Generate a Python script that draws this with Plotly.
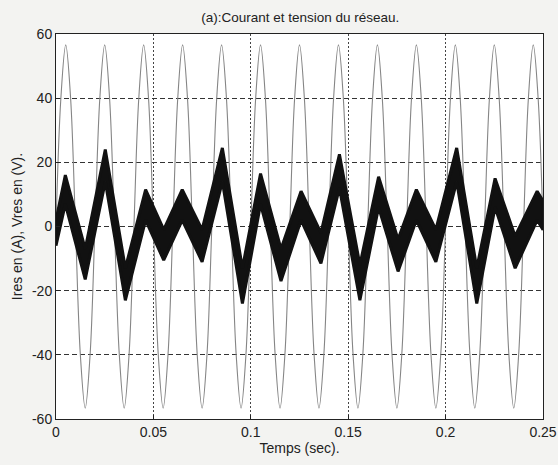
import plotly.graph_objects as go

volt_t = [i * 0.0025 for i in range(101)]
volt_v = [0, 40, 56.6, 40, 0, -40, -56.6, -40,
          0, 40, 56.6, 40, 0, -40, -56.6, -40,
          0, 40, 56.6, 40, 0, -40, -56.6, -40,
          0, 40, 56.6, 40, 0, -40, -56.6, -40,
          0, 40, 56.6, 40, 0, -40, -56.6, -40,
          0, 40, 56.6, 40, 0, -40, -56.6, -40,
          0, 40, 56.6, 40, 0, -40, -56.6, -40,
          0, 40, 56.6, 40, 0, -40, -56.6, -40,
          0, 40, 56.6, 40, 0, -40, -56.6, -40,
          0, 40, 56.6, 40, 0, -40, -56.6, -40,
          0, 40, 56.6, 40, 0, -40, -56.6, -40,
          0, 40, 56.6, 40, 0, -40, -56.6, -40,
          0, 40, 56.6, 40, 0]

# Current (A): noisy band, upper and lower envelope at its turning points
cur_t = [0.000, 0.0048, 0.015, 0.0253, 0.0356, 0.046, 0.0553, 0.0648, 0.075,
         0.0854, 0.0957, 0.105, 0.1155, 0.1258, 0.136, 0.1455, 0.156, 0.1656,
         0.1756, 0.185, 0.195, 0.2057, 0.216, 0.2254, 0.2357, 0.247, 0.25]
cur_hi = [2, 16, -7, 24, -13, 11.5, -1, 11.5, -1,
          24.5, -13, 16.5, -7, 11, -2, 22.5, -12, 15.5,
          -4, 11.5, -1, 24.5, -13, 15, -3, 11, 8]
cur_lo = [-6, 7, -16.5, 14, -23, 2, -10.5, 2, -11,
          14, -24, 7, -17, 2, -11.5, 12, -23, 6,
          -14, 2, -11, 14, -24, 6, -13, 2, -1]

x_ticks = [0, 0.05, 0.1, 0.15, 0.2, 0.25]
x_labels = ["0", "0.05", "0.1", "0.15", "0.2", "0.25"]
y_ticks = [-60, -40, -20, 0, 20, 40, 60]
y_labels = ["-60", "-40", "-20", "0", "20", "40", "60"]

fig = go.Figure()
fig.add_trace(go.Scatter(
    x=volt_t, y=volt_v, mode="lines",
    line=dict(color="#858585", width=1.1, shape="spline", smoothing=1.0),
    showlegend=False, hoverinfo="skip"))
fig.add_trace(go.Scatter(
    x=cur_t + cur_t[::-1], y=cur_hi + cur_lo[::-1], mode="lines",
    fill="toself", fillcolor="#111111",
    line=dict(color="#111111", width=3.0),
    showlegend=False, hoverinfo="skip"))

font = "Liberation Sans, Arial, sans-serif"
fig.update_layout(
    width=558, height=465,
    margin=dict(l=56, r=15, t=34, b=46, autoexpand=False),
    paper_bgcolor="#f3f3f1", plot_bgcolor="#ffffff",
    font=dict(family=font, size=14, color="#222222"),
    title=dict(text="(a):Courant et tension du réseau.", x=0.538, xanchor="center",
               y=0.963, yanchor="middle", font=dict(size=13.5, family=font, color="#222")),
    xaxis=dict(range=[0, 0.25], tickvals=x_ticks, ticktext=x_labels,
               showgrid=True, gridcolor="#444444", gridwidth=1, griddash="2px,2px",
               zeroline=False, showline=True, linecolor="#222", linewidth=1, mirror=True,
               ticks="inside", ticklen=4, tickcolor="#222", automargin=False,
               tickfont=dict(size=14), title=dict(text="Temps (sec).", standoff=3,
                                                  font=dict(size=14))),
    yaxis=dict(range=[-60, 60], tickvals=y_ticks, ticktext=y_labels,
               showgrid=True, gridcolor="#333333", gridwidth=1, griddash="5px,3px",
               zeroline=False, showline=True, linecolor="#222", linewidth=1, mirror=True,
               ticks="inside", ticklen=4, tickcolor="#222", automargin=False,
               tickfont=dict(size=14),
               title=dict(text="Ires en (A), Vres en (V).", standoff=6,
                          font=dict(size=14))),
)

fig.write_html("out.html", config={"displayModeBar": False},
               post_script="document.body.style.margin='0';")
